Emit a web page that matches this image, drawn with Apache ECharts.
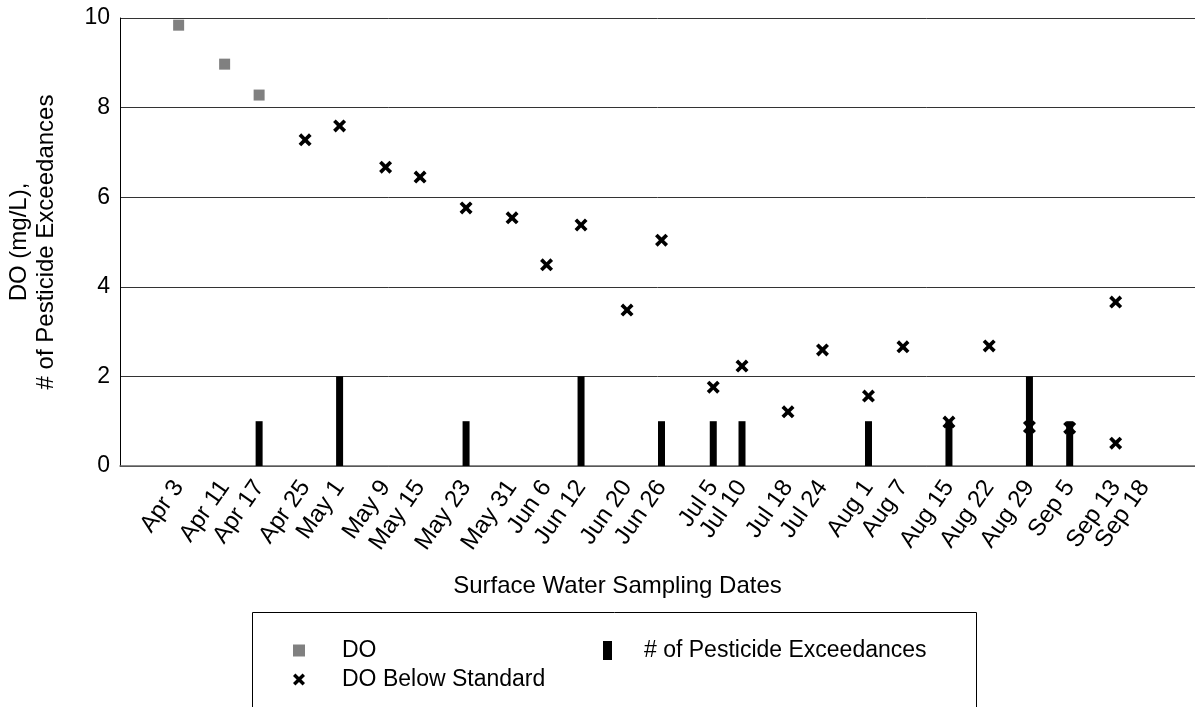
<!DOCTYPE html>
<html>
<head>
<meta charset="utf-8">
<script src="https://cdn.jsdelivr.net/npm/echarts@6/dist/echarts.min.js"></script>
<style>
  html, body { margin: 0; padding: 0; background: #fff; }
  #chart { width: 1195px; height: 707px; }
</style>
</head>
<body>
<div id="chart"></div>
<script>
// days counted from Apr 3
const dateLabels = ['Apr 3', 'Apr 11', 'Apr 17', 'Apr 25', 'May 1', 'May 9', 'May 15', 'May 23', 'May 31',
  'Jun 6', 'Jun 12', 'Jun 20', 'Jun 26', 'Jul 5', 'Jul 10', 'Jul 18', 'Jul 24', 'Aug 1', 'Aug 7',
  'Aug 15', 'Aug 22', 'Aug 29', 'Sep 5', 'Sep 13', 'Sep 18'];
const dateDays = [0, 8, 14, 22, 28, 36, 42, 50, 58, 64, 70, 78, 84, 93, 98, 106, 112, 120, 126,
  134, 141, 148, 155, 163, 168];

const doDays = [0, 8, 14];
const doValues = [9.84, 8.97, 8.28];

const belowDays = [22, 28, 36, 42, 50, 58, 64, 70, 78, 84, 93, 98, 106, 112, 120, 126, 134, 141, 148, 155, 163, 163];
const belowValues = [7.28, 7.59, 6.67, 6.45, 5.76, 5.54, 4.49, 5.38, 3.48, 5.04, 1.76, 2.23, 1.21, 2.59,
  1.56, 2.66, 0.98, 2.68, 0.87, 0.85, 0.51, 3.66];

const pestDays = [14, 28, 50, 70, 84, 93, 98, 120, 134, 148, 155];
const pestValues = [1, 2, 1, 2, 1, 1, 1, 1, 1, 2, 1];

const labelMap = {};
dateDays.forEach((d, i) => { labelMap[d] = dateLabels[i]; });

const font = 'Liberation Sans, Arial, sans-serif';
const xMark = 'path://M2,0 L5,3 L8,0 L10,2 L7,5 L10,8 L8,10 L5,7 L2,10 L0,8 L3,5 L0,2 Z';

const xMin = -10.2;
const xMax = 176.8;

const dateLabelStyle = values => ({
  customValues: values,
  hideOverlap: false,
  rotate: 55,
  margin: 17,
  fontSize: 24,
  color: '#000',
  fontFamily: font,
  formatter: v => labelMap[v] || ''
});

// the last label sits on its own axis so the overlap check does not drop it
const lastDay = dateDays[dateDays.length - 1];

const chart = echarts.init(document.getElementById('chart'));
chart.setOption({
  animation: false,
  textStyle: { fontFamily: font },
  grid: { left: 120, right: 0, top: 18, bottom: 241, containLabel: false, outerBoundsMode: 'none' },
  xAxis: [
    {
      type: 'value',
      min: xMin,
      max: xMax,
      name: 'Surface Water Sampling Dates',
      nameLocation: 'middle',
      nameGap: 108,
      nameTextStyle: { fontSize: 24, color: '#000', fontFamily: font, padding: [0, 80, 0, 0] },
      axisLine: { show: true, onZero: false, lineStyle: { color: '#666', width: 1.5 } },
      axisTick: { show: false },
      splitLine: { show: false },
      axisLabel: dateLabelStyle(dateDays.slice(0, -1))
    },
    {
      type: 'value',
      position: 'bottom',
      min: xMin,
      max: xMax,
      axisLine: { show: false, onZero: false },
      axisTick: { show: false },
      splitLine: { show: false },
      axisLabel: dateLabelStyle([lastDay])
    }
  ],
  yAxis: {
    type: 'value',
    min: 0,
    max: 10,
    interval: 2,
    name: 'DO (mg/L),\n# of Pesticide Exceedances',
    nameLocation: 'middle',
    nameGap: 60,
    nameTextStyle: { fontSize: 24, color: '#000', fontFamily: font, lineHeight: 27 },
    axisLine: { show: true, onZero: false, lineStyle: { color: '#000', width: 1 } },
    axisTick: { show: false },
    axisLabel: { fontSize: 23, color: '#000', margin: 10, fontFamily: font },
    splitLine: { show: true, lineStyle: { color: '#333', width: 1 } }
  },
  legend: [
    {
      orient: 'vertical',
      left: 288,
      top: 634,
      itemGap: 6,
      itemWidth: 12,
      itemHeight: 12,
      textStyle: { fontSize: 23, color: '#000', fontFamily: font, padding: [0, 0, 0, 32] },
      data: [
        { name: 'DO', icon: 'rect', itemStyle: { color: '#808080' } },
        { name: 'DO Below Standard', icon: xMark, itemStyle: { color: '#000' } }
      ]
    },
    {
      left: 598,
      top: 634,
      itemWidth: 9,
      itemHeight: 19,
      textStyle: { fontSize: 23, color: '#000', fontFamily: font, padding: [0, 0, 0, 27] },
      data: [{ name: '# of Pesticide Exceedances', icon: 'rect', itemStyle: { color: '#000' } }]
    }
  ],
  graphic: [{
    type: 'rect',
    shape: { x: 252.5, y: 612.5, width: 724, height: 110 },
    style: { fill: 'none', stroke: '#000', lineWidth: 1 },
    silent: true
  }],
  series: [
    {
      name: '# of Pesticide Exceedances',
      type: 'bar',
      barWidth: 7,
      itemStyle: { color: '#000' },
      data: pestDays.map((d, i) => [d, pestValues[i]]),
      z: 2
    },
    {
      name: 'DO',
      type: 'scatter',
      symbol: 'rect',
      symbolSize: 11,
      itemStyle: { color: '#808080', opacity: 1 },
      data: doDays.map((d, i) => [d, doValues[i]]),
      z: 3
    },
    {
      name: 'DO Below Standard',
      type: 'scatter',
      symbol: xMark,
      symbolSize: 13,
      itemStyle: { color: '#000', opacity: 1 },
      data: belowDays.map((d, i) => [d, belowValues[i]]),
      z: 4
    }
  ]
});
</script>
</body>
</html>
